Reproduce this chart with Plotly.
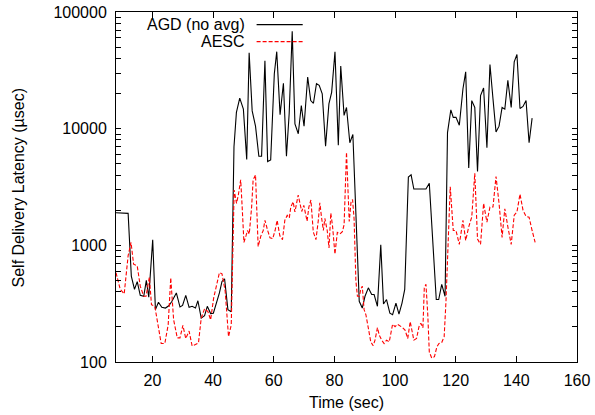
import plotly.graph_objects as go

# AGD (no avg) - time (sec) and latency (usec)
agd_t = [8.0, 9.8, 12.0, 13.05, 14.1, 15.0, 16.0, 17.15, 18.0, 18.8, 20.1, 21.0, 22.0, 23.1, 24.3, 25.4,
         26.4, 27.9, 29.1, 29.95, 31.0, 32.1, 33.1, 34.2, 35.0, 36.1, 37.2, 38.1, 39.2, 40.1, 41.0, 42.1,
         42.95, 43.8, 44.9, 46.0, 46.9, 47.7, 48.8, 50.0, 51.1, 51.9, 52.9, 54.0, 55.1, 56.0, 57.1, 58.0,
         59.0, 60.2, 61.0, 62.1, 63.2, 64.2, 65.1, 66.1, 67.0, 68.1, 69.1, 70.0, 71.2, 72.2, 73.1, 74.1,
         75.0, 76.0, 77.1, 78.2, 79.1, 80.2, 81.3, 82.1, 83.2, 84.0, 85.1, 86.1, 88.2, 89.2, 90.1, 91.2,
         92.3, 93.1, 94.2, 95.3, 96.2, 97.2, 98.3, 99.2, 100.3, 101.3, 102.3, 103.2, 104.4, 105.3, 106.2,
         107.4, 108.6, 110.2, 111.3, 113.6, 114.4, 115.4, 116.5, 117.3, 118.4, 119.2, 120.1, 121.2, 122.4,
         123.3, 124.3, 125.3, 126.3, 127.2, 128.2, 129.2, 130.3, 131.3, 132.3, 133.3, 134.3, 135.3, 136.2,
         137.2, 138.3, 139.3, 140.2, 141.2, 142.2, 143.2, 144.2, 145.2]
agd_v = [1900, 1900, 1880, 545, 419, 488, 373, 366, 500, 360, 1115, 281, 325, 294, 290, 303,
         330, 391, 296, 305, 373, 294, 300, 290, 335, 238, 250, 300, 260, 262, 310, 391,
         490, 517, 281, 270, 7000, 13800, 18300, 14700, 5440, 44800, 14200, 10500, 5800, 5800, 38200, 5230,
         5400, 29600, 45700, 13200, 24500, 5800, 13500, 68200, 11000, 9040, 15800, 10500, 27700, 17400, 16500, 24300,
         23500, 19900, 7080, 16300, 20500, 45700, 7200, 34400, 13000, 15200, 7570, 8930, 331, 290, 366, 432,
         379, 379, 300, 1010, 314, 343, 262, 254, 320, 257, 320, 419, 3850, 4020, 3040,
         3040, 3040, 3040, 3400, 343, 343, 463, 366, 9250, 14500, 12500, 12500, 10700, 22000,
         30700, 4600, 17400, 15200, 4300, 19200, 22300, 6850, 35500, 18000, 9370, 10500, 15200, 14700,
         26000, 15200, 37400, 43300, 14900, 15500, 17400, 7570, 12300]

# AESC - time (sec) and latency (usec)
aesc_t = [8.0, 9.4, 10.7, 12.0, 12.95, 13.8, 15.0, 16.0, 17.15, 17.9, 19.0, 19.7, 20.8, 21.8, 22.9, 24.1,
          25.2, 26.05, 27.0, 28.2, 29.1, 30.05, 31.0, 32.1, 33.1, 34.2, 35.2, 36.1, 37.2, 38.3, 39.2, 40.2,
          41.1, 42.1, 42.95, 44.0, 45.1, 46.0, 46.96, 47.74, 48.33, 49.11, 49.6, 50.18, 50.87, 51.36, 51.94,
          52.72, 53.21, 54.0, 54.87, 55.75, 56.54, 57.12, 58.0, 58.78, 59.66, 60.45, 61.13, 62.01, 62.89,
          63.67, 64.45, 65.14, 65.63, 66.41, 66.99, 67.58, 68.07, 68.66, 69.24, 69.92, 70.51, 71.0, 71.59,
          72.27, 73.05, 73.93, 74.71, 75.2, 75.79, 76.37, 76.86, 77.64, 78.23, 78.82, 79.4, 80.19, 80.97,
          81.85, 82.63, 83.21, 84.0, 84.9, 85.5, 86.0, 86.5, 87.1, 87.6, 88.25, 88.7, 89.2, 89.8, 90.4,
          91.2, 92.0, 92.8, 93.4, 94.2, 94.8, 95.6, 96.4, 97.2, 98.1, 99.2, 100.0, 100.8, 101.6, 102.5,
          103.3, 104.2, 105.0, 105.5, 106.2, 107.1, 107.9, 108.5, 109.2, 109.65, 110.2, 110.8, 111.3, 112.1,
          113.0, 113.8, 114.5, 115.4, 116.2, 116.8, 118.2, 119.2, 120.1, 121.2, 122.4, 123.3, 124.3, 125.3,
          126.3, 127.2, 128.2, 129.2, 130.3, 131.3, 132.3, 133.3, 134.3, 135.3, 136.2, 137.2, 138.3, 139.3,
          140.2, 141.2, 142.2, 143.2, 144.2, 145.2, 146.2]
aesc_v = [583, 419, 383, 815, 1062, 690, 667, 447, 366, 366, 534, 310, 300, 208, 144, 144,
          208, 527, 230, 161, 161, 206, 159, 184, 137, 141, 146, 238, 286, 270, 230, 354,
          447, 583, 570, 405, 165, 208, 2980, 2290, 2700, 3640, 2130, 1060, 1210, 1340, 1250,
          2130, 3640, 4020, 977, 1200, 1340, 1640, 1340, 1160, 1140, 1340, 1640, 1210, 1120,
          1640, 1810, 1720, 2130, 2360, 1930, 2360, 2700, 2290, 1950, 2200, 1840, 1610, 2130,
          2450, 1300, 1120, 1640, 2320, 1720, 1340, 1700, 1340, 950, 1890, 1460, 840, 1290,
          1250, 1310, 1500, 6280, 1600, 2360, 2470, 1690, 494, 366, 366, 419, 447, 281, 254,
          195, 149, 138, 154, 197, 170, 154, 144, 154, 149, 211, 201, 211, 205, 197,
          188, 159, 222, 188, 154, 159, 201, 215, 197, 432, 463, 254, 122, 108,
          111, 135, 144, 147, 165, 331, 3180, 1340, 1340, 1020, 1640, 1100, 1440, 1750,
          4150, 1130, 1020, 2290, 1580, 2130, 2130, 3890, 2290, 1170, 2060, 1440, 1020, 1810,
          1930, 2750, 2000, 1770, 1740, 1340, 1060]

x_ticks = [20, 40, 60, 80, 100, 120, 140, 160]
y_ticks = [100, 1000, 10000, 100000]
y_ticktext = ["100", "1000", "10000", "100000"]
y_minor_ticks = [200, 300, 400, 500, 600, 700, 800, 900,
                 2000, 3000, 4000, 5000, 6000, 7000, 8000, 9000,
                 20000, 30000, 40000, 50000, 60000, 70000, 80000, 90000]

FONT = "Liberation Sans, Arial, Helvetica, sans-serif"

fig = go.Figure()
fig.add_trace(go.Scatter(x=agd_t, y=agd_v, mode="lines", name="AGD (no avg)",
                         line=dict(color="black", width=1.1)))
fig.add_trace(go.Scatter(x=aesc_t, y=aesc_v, mode="lines", name="AESC",
                         line=dict(color="#ff0000", width=1.1, dash="4px,2px")))

fig.update_layout(
    template="none",
    width=595, height=415,
    margin=dict(l=116, r=18, t=12, b=53, autoexpand=False),
    paper_bgcolor="white", plot_bgcolor="white",
    showlegend=False,
    font=dict(family=FONT, size=16, color="black"),
    xaxis=dict(
        range=[8, 160], tickmode="array", tickvals=x_ticks, automargin=False,
        ticks="inside", ticklen=6, tickcolor="black", tickwidth=1, ticklabelstandoff=4,
        showline=True, linecolor="black", linewidth=1, mirror="allticks",
        showgrid=False, zeroline=False,
        tickfont=dict(family=FONT, size=16, color="black"),
    ),
    yaxis=dict(
        type="log", range=[2, 5], tickmode="array",
        tickvals=y_ticks + y_minor_ticks,
        ticktext=y_ticktext + [""] * len(y_minor_ticks),
        automargin=False,
        ticks="inside", ticklen=5, tickcolor="black", tickwidth=1, ticklabelstandoff=5,
        showline=True, linecolor="black", linewidth=1, mirror="allticks",
        showgrid=False, zeroline=False,
        tickfont=dict(family=FONT, size=16, color="black"),
    ),
)

# axis titles
fig.add_annotation(text="Time (sec)", xref="paper", yref="paper", x=0.5, y=-0.117,
                   xanchor="center", yanchor="middle", showarrow=False,
                   font=dict(family=FONT, size=16, color="black"))
fig.add_annotation(text="Self Delivery Latency (µsec)", xref="paper", yref="paper", x=-0.2115, y=0.5,
                   xanchor="center", yanchor="middle", textangle=-90, showarrow=False,
                   font=dict(family=FONT, size=16, color="black"))

# key (gnuplot style: text left of sample)
fig.add_annotation(text="AGD (no avg)", xref="paper", yref="paper", x=0.2835, y=0.964,
                   xanchor="right", yanchor="middle", showarrow=False,
                   font=dict(family=FONT, size=16, color="black"))
fig.add_annotation(text="AESC", xref="paper", yref="paper", x=0.2835, y=0.9155,
                   xanchor="right", yanchor="middle", showarrow=False,
                   font=dict(family=FONT, size=16, color="black"))
fig.add_shape(type="line", xref="paper", yref="paper", x0=0.305, x1=0.405, y0=0.964, y1=0.964,
              line=dict(color="black", width=1.1))
fig.add_shape(type="line", xref="paper", yref="paper", x0=0.305, x1=0.405, y0=0.9155, y1=0.9155,
              line=dict(color="#ff0000", width=1.1, dash="4px,2px"))

fig.write_html("out.html")
